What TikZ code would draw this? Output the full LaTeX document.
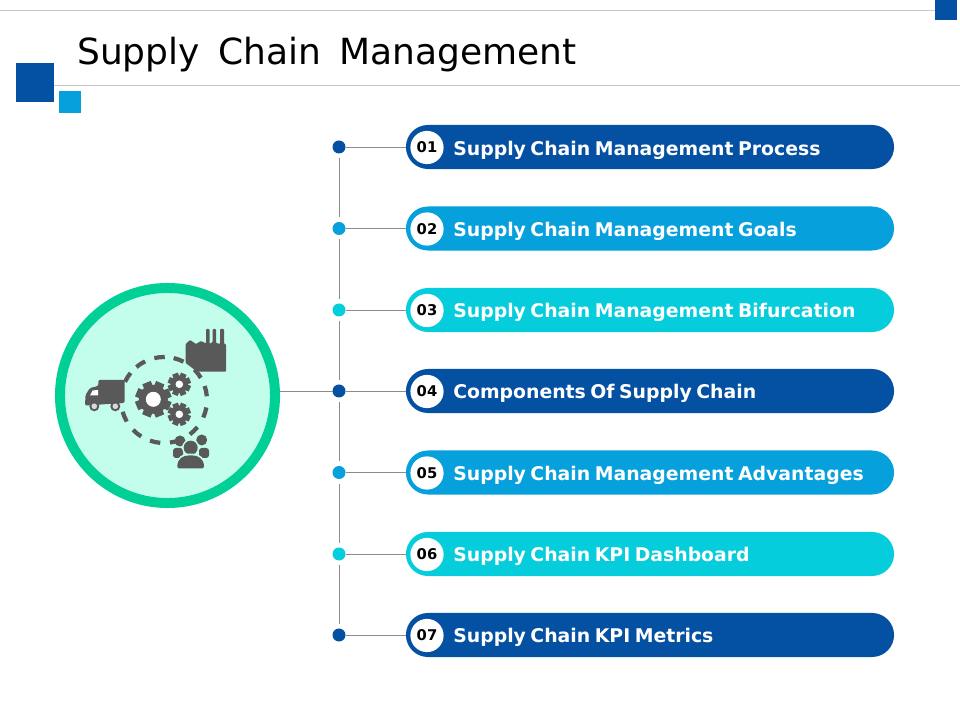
\documentclass[tikz,border=0pt]{standalone}
\usepackage{fontspec}
\setmainfont{DejaVu Sans}
\newfontfamily\titlefont[WordSpace=1.6]{DejaVu Sans}
\usepackage{xcolor}
\usetikzlibrary{calc,positioning}

\definecolor{navy}{HTML}{0450A2}
\definecolor{sky}{HTML}{06A0DC}
\definecolor{aqua}{HTML}{06CDDB}
\definecolor{ringgreen}{HTML}{00CF96}
\definecolor{mint}{HTML}{C3FDEC}
\definecolor{icongray}{HTML}{595959}
\definecolor{rulegray}{HTML}{C8C8C8}
\definecolor{linkgray}{HTML}{8C8C8C}

\tikzset{
    pill/.style={minimum width=12.2cm,minimum height=1.1cm,rounded corners=0.55cm,inner sep=0pt,fill=#1},
    dot/.style={circle,minimum size=0.325cm,inner sep=0pt,fill=#1},
    numdisc/.style={circle,fill=white,minimum size=0.83cm,inner sep=0pt,font=\fontsize{10.5}{12}\bfseries},
    pilltext/.style={anchor=base west,inner sep=0pt,text=white,font=\fontsize{13.4}{16}\bfseries,execute at begin node={\spaceskip=3.2pt\relax}},
    link/.style={draw=linkgray,line width=0.7pt},
    rulerline/.style={draw=rulegray,line width=0.7pt},
    dashring/.style={draw=icongray,line width=3pt}
}

% gear: x, y, outer radius, body radius, tooth half width
\newcommand{\gearicon}[5]{
    \fill[icongray] (#1,#2) circle (#4);
    \foreach \a in {0,45,...,315}
        \fill[icongray,rotate around={\a+22:(#1,#2)}] ($(#1,#2)+(-#5,0)$) rectangle ($(#1,#2)+(#5,-#3)$);
}

\begin{document}
\begin{tikzpicture}[x=0.025cm,y=-0.025cm]
    \useasboundingbox (0,0) rectangle (960,720);

    % header
    \draw[rulerline] (0,10.5) -- (935,10.5);
    \draw[rulerline] (54,85) -- (960,85);
    \fill[navy] (16,63) rectangle (54,102);
    \fill[sky] (59,91) rectangle (81,113);
    \fill[navy] (935,0) rectangle (957,20);
    \node[anchor=base west,inner sep=0pt,font=\titlefont\fontsize{25.6}{30}\selectfont] (title) at (77,65) {Supply Chain Management};

    % stops
    \node[dot=navy] (dot1) at (339,147) {};
    \node[dot=sky] (dot2) at (339,228.5) {};
    \node[dot=aqua] (dot3) at (339,310) {};
    \node[dot=navy] (dot4) at (339,391) {};
    \node[dot=sky] (dot5) at (339,472.5) {};
    \node[dot=aqua] (dot6) at (339,554) {};
    \node[dot=navy] (dot7) at (339,635) {};

    % bars
    \node[pill=navy] (pill1) at (650,147) {};
    \node[pill=sky] (pill2) at (650,228.5) {};
    \node[pill=aqua] (pill3) at (650,310) {};
    \node[pill=navy] (pill4) at (650,391) {};
    \node[pill=sky] (pill5) at (650,472.5) {};
    \node[pill=aqua] (pill6) at (650,554) {};
    \node[pill=navy] (pill7) at (650,635) {};

    \node[numdisc] (num1) at (427,147.5) {01};
    \node[numdisc] (num2) at (427,229) {02};
    \node[numdisc] (num3) at (427,310.5) {03};
    \node[numdisc] (num4) at (427,391.5) {04};
    \node[numdisc] (num5) at (427,473) {05};
    \node[numdisc] (num6) at (427,554.5) {06};
    \node[numdisc] (num7) at (427,635.5) {07};

    \node[pilltext] (text1) at (453,155.5) {Supply Chain Management Process};
    \node[pilltext] (text2) at (453,236.5) {Supply Chain Management Goals};
    \node[pilltext] (text3) at (453,317.5) {Supply Chain Management Bifurcation};
    \node[pilltext] (text4) at (453,399) {Components Of Supply Chain};
    \node[pilltext] (text5) at (453,480.5) {Supply Chain Management Advantages};
    \node[pilltext] (text6) at (453,561.5) {Supply Chain KPI Dashboard};
    \node[pilltext] (text7) at (453,642.5) {Supply Chain KPI Metrics};

    % connectors
    \draw[link] (dot1) -- (pill1);
    \draw[link] (dot2) -- (pill2);
    \draw[link] (dot3) -- (pill3);
    \draw[link] (dot4) -- (pill4);
    \draw[link] (dot5) -- (pill5);
    \draw[link] (dot6) -- (pill6);
    \draw[link] (dot7) -- (pill7);
    \draw[link,shorten <=3pt,shorten >=3pt] (dot1) -- (dot2);
    \draw[link,shorten <=3pt,shorten >=3pt] (dot2) -- (dot3);
    \draw[link,shorten <=3pt,shorten >=3pt] (dot3) -- (dot4);
    \draw[link,shorten <=3pt,shorten >=3pt] (dot4) -- (dot5);
    \draw[link,shorten <=3pt,shorten >=3pt] (dot5) -- (dot6);
    \draw[link,shorten <=3pt,shorten >=3pt] (dot6) -- (dot7);

    % hub
    \node[circle,draw=ringgreen,fill=mint,line width=7.1pt,minimum size=5.375cm,inner sep=0pt,outer sep=0pt] (hub) at (167.5,395.5) {};
    \coordinate (hubout) at (280,391);
    \coordinate (dotin) at (333,391);
    \draw[link] (hubout) -- (dotin);

    % dashed ring
    \foreach \a in {38,12,-17,-46,-75,-102,-129,-157,148,123,96,70}
        \draw[dashring] ($(164,400)+({43*cos(\a-7)},{-43*sin(\a-7)})$) -- ($(164,400)+({43*cos(\a)},{-43*sin(\a)})$) -- ($(164,400)+({43*cos(\a+7)},{-43*sin(\a+7)})$);

    % gears
    \gearicon{153.3}{399.3}{18}{14.5}{4.5}
    \fill[white] (153.3,399.3) circle (7.5);
    \gearicon{179.3}{384.3}{11.5}{8.8}{3}
    \fill[white] (179.3,384.3) circle (3.8);
    \gearicon{179.3}{414.3}{11.5}{8.8}{3}
    \fill[white] (179.3,414.3) circle (3.8);

    % truck
    \fill[icongray,rounded corners=1pt] (98.3,380) -- (124.5,380) -- (124.5,403) -- (85,405.5) -- (85.5,395) -- (90,388) -- (98.3,386) -- cycle;
    \fill[white] (90,395.5) -- (98,395.5) -- (98,390) -- (92.5,390.5) -- cycle;
    \fill[icongray] (94.3,406.3) circle (5);
    \fill[icongray] (115.3,406.3) circle (5);
    \fill[black!15] (94.3,406.3) circle (2.8);
    \fill[black!15] (115.3,406.3) circle (2.8);

    % factory
    \fill[icongray,rounded corners=0.6pt] (185.7,344) -- (190,340) -- (196,344) -- (201,341) -- (206,343.5) -- (206,329) -- (209.5,329) -- (209.5,344) -- (212.7,342) -- (212.7,329) -- (216,329) -- (216,343) -- (220,344) -- (220,329) -- (224,329) -- (224,344) -- (226,344) -- (226,371.7) -- (197,371.7) -- (185.7,363) -- cycle;

    % people
    \fill[icongray] (180,441) circle (5.5);
    \fill[icongray] (201.7,440) circle (5.5);
    \fill[icongray,rounded corners=2pt] (173,448) rectangle (183,458);
    \fill[icongray,rounded corners=2pt] (199,448) rectangle (209,458);
    \fill[mint] (190.7,447.7) circle (8.6);
    \fill[icongray] (190.7,447.7) circle (7);
    \fill[mint] (175.5,470) .. controls (175.5,456) and (183,453.5) .. (190.7,453.5) .. controls (198,453.5) and (206,456) .. (206,470) -- cycle;
    \fill[icongray,rounded corners=1.5pt] (177.3,468.5) .. controls (177.3,458) and (184,455.5) .. (190.7,455.5) .. controls (197,455.5) and (204,458) .. (204,468.5) -- cycle;
\end{tikzpicture}
\end{document}
